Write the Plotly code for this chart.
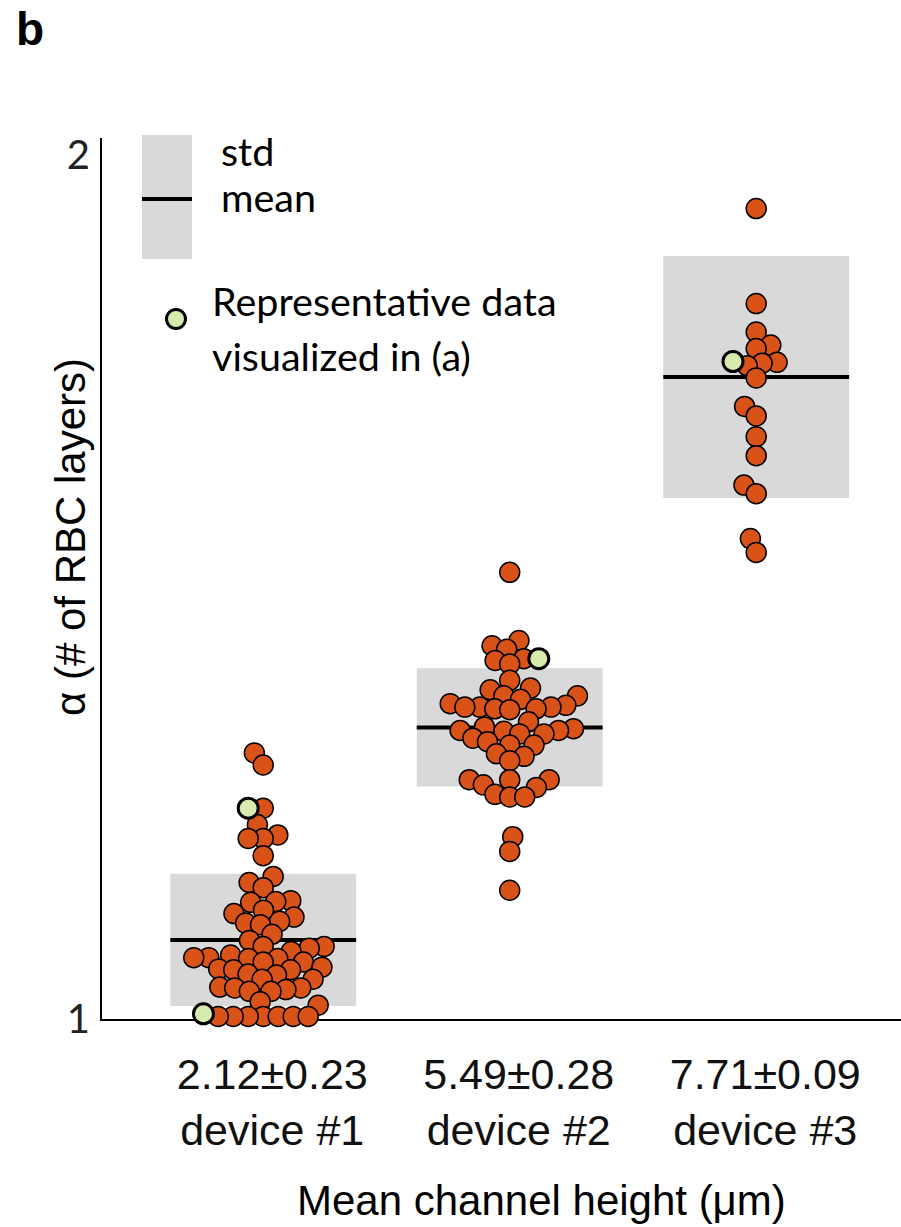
import numpy as np
import plotly.graph_objects as go

# ---------------- data ----------------
heights = ["2.12±0.23", "5.49±0.28", "7.71±0.09"]
devices = ["device #1", "device #2", "device #3"]

alpha_dev1 = [1.308, 1.294, 1.244, 1.225, 1.213, 1.209, 1.209, 1.189,
              1.165, 1.158, 1.152, 1.137, 1.136, 1.135, 1.126, 1.122, 1.118, 1.113, 1.111, 1.109,
              1.098, 1.091, 1.084, 1.084, 1.082, 1.078, 1.074, 1.071, 1.071, 1.070, 1.070, 1.066, 1.066,
              1.060, 1.058, 1.057, 1.057, 1.052, 1.051, 1.046, 1.046,
              1.037, 1.036, 1.036, 1.034, 1.032, 1.032, 1.020, 1.016,
              1.003, 1.003, 1.003, 1.003, 1.003, 1.003, 1.003]
rep_dev1 = [1.244, 1.006]

alpha_dev2 = [1.517, 1.438, 1.432, 1.428, 1.417, 1.415, 1.411, 1.392, 1.383, 1.381,
              1.374, 1.374, 1.370, 1.365, 1.363, 1.361, 1.361, 1.361, 1.359, 1.359, 1.358,
              1.344, 1.338, 1.336, 1.334, 1.334, 1.333, 1.330, 1.330, 1.325, 1.321, 1.317, 1.317,
              1.307, 1.304, 1.299, 1.277, 1.277, 1.277, 1.271, 1.268, 1.260, 1.257, 1.257,
              1.211, 1.194, 1.149]
rep_dev2 = [1.417]

alpha_dev3 = [1.938, 1.828, 1.795, 1.780, 1.776, 1.760, 1.759, 1.756, 1.742,
              1.709, 1.698, 1.674, 1.652, 1.618, 1.608, 1.556, 1.540]
rep_dev3 = [1.761]

mean_alpha = [1.0915, 1.3375, 1.743]
std_alpha = [0.0765, 0.0685, 0.140]

y_ticks = [1, 2]

# ---------------- layout geometry ----------------
W, H = 901, 1227
ML, MR, MT, MB = 102, 0, 138, 208
plot_w = W - ML - MR
plot_h = H - MT - MB
PPY = 864.0            # pixels per alpha unit
PPX = 246.5            # pixels per category step
x0_rng = -0.654
x_range = [x0_rng, x0_rng + plot_w / PPX]
y_range = [1.0, 1.0 + plot_h / PPY]

ORANGE = "#D95319"
GREEN = "#D7EBAE"
GREY = "#D9D9D9"
BOX_HALF = 0.377
MS = 20


def swarm(ys, dmin_px=15.0):
    ys = np.asarray(ys, dtype=float)
    order = np.argsort(ys, kind="stable")
    placed = []
    xs = np.zeros(len(ys))
    for k, i in enumerate(order):
        y = ys[i] * PPY
        near = [(px, py) for px, py in placed if abs(py - y) < dmin_px]
        cands = [0.0]
        for px, py in near:
            dx = np.sqrt(dmin_px ** 2 - (py - y) ** 2)
            cands += [px + dx, px - dx]
        sgn = 1 if k % 2 else -1
        cands.sort(key=lambda c: (round(abs(c), 6), sgn * c))
        for c in cands:
            if all((c - px) ** 2 + (y - py) ** 2 >= dmin_px ** 2 - 1e-6 for px, py in near):
                xs[i] = c
                break
        placed.append((xs[i], y))
    return xs / PPX


fig = go.Figure()

groups = [(alpha_dev1, rep_dev1), (alpha_dev2, rep_dev2), (alpha_dev3, rep_dev3)]
for gi, (vals, reps) in enumerate(groups):
    allv = list(vals) + list(reps)
    offs = swarm(allv)
    n = len(vals)
    # std box and mean line
    fig.add_shape(type="rect", xref="x", yref="y",
                  x0=gi - BOX_HALF, x1=gi + BOX_HALF,
                  y0=mean_alpha[gi] - std_alpha[gi], y1=mean_alpha[gi] + std_alpha[gi],
                  fillcolor=GREY, line=dict(width=0), layer="below")
    fig.add_shape(type="line", xref="x", yref="y",
                  x0=gi - BOX_HALF, x1=gi + BOX_HALF,
                  y0=mean_alpha[gi], y1=mean_alpha[gi],
                  line=dict(color="black", width=4), layer="below")
    fig.add_trace(go.Scatter(
        x=gi + offs[:n], y=vals, mode="markers", cliponaxis=False, showlegend=False,
        marker=dict(size=MS, color=ORANGE, line=dict(color="black", width=1.5))))
    fig.add_trace(go.Scatter(
        x=gi + offs[n:], y=reps, mode="markers", cliponaxis=False, showlegend=False,
        marker=dict(size=MS, color=GREEN, line=dict(color="black", width=3))))


def px_x(p):
    return (p - ML) / plot_w


def px_y(p):
    return (H - MB - p) / plot_h


# legend (drawn in paper space)
fig.add_shape(type="rect", xref="paper", yref="paper",
              x0=px_x(142), x1=px_x(192), y0=px_y(259), y1=px_y(135),
              fillcolor=GREY, line=dict(width=0), layer="below")
fig.add_shape(type="line", xref="paper", yref="paper",
              x0=px_x(142), x1=px_x(192), y0=px_y(199), y1=px_y(199),
              line=dict(color="black", width=4))
fig.add_shape(type="circle", xref="paper", yref="paper",
              x0=px_x(166.5), x1=px_x(185.5), y0=px_y(328.5), y1=px_y(309.5),
              fillcolor=GREEN, line=dict(color="black", width=3))

LEG_FONT = dict(family="Lato, Carlito, sans-serif", size=39.5, color="black")
for txt, xl, yc in [("std", 219, 150), ("mean", 219, 197),
                    ("Representative data", 210, 300), ("visualized in (a)", 210, 355)]:
    fig.add_annotation(text=txt, xref="paper", yref="paper", x=px_x(xl), y=px_y(yc),
                       xanchor="left", yanchor="middle", showarrow=False, font=LEG_FONT)

# panel letter
fig.add_annotation(text="<b>b</b>", xref="paper", yref="paper", x=px_x(14), y=px_y(29),
                   xanchor="left", yanchor="middle", showarrow=False,
                   font=dict(family="Liberation Sans, Arial", size=46, color="black"))

# axis titles
fig.add_annotation(text="α (# of RBC layers)", xref="paper", yref="paper",
                   x=px_x(70), y=px_y(537), xanchor="center", yanchor="middle",
                   textangle=-90, showarrow=False,
                   font=dict(family="Liberation Sans, Arial", size=42, color="black"))
fig.add_annotation(text="Mean channel height (μm)", xref="paper", yref="paper",
                   x=px_x(541), y=px_y(1200), xanchor="center", yanchor="middle",
                   showarrow=False,
                   font=dict(family="Liberation Sans, Arial", size=42, color="black"))

fig.update_layout(
    width=W, height=H,
    margin=dict(l=ML, r=MR, t=MT, b=MB),
    paper_bgcolor="white", plot_bgcolor="white",
    xaxis=dict(range=x_range, showgrid=False, zeroline=False,
               showline=True, linecolor="black", linewidth=2, ticks="",
               tickvals=[0, 1, 2],
               ticktext=[f"{h}<br>{d}" for h, d in zip(heights, devices)],
               ticklabelshift=9, ticklabelstandoff=16,
               tickfont=dict(family="Liberation Sans, Arial", size=43, color="#111"),
               layer="below traces", fixedrange=True),
    yaxis=dict(range=y_range, showgrid=False, zeroline=False,
               showline=True, linecolor="black", linewidth=2, ticks="",
               tickvals=y_ticks, ticktext=[str(t) for t in y_ticks],
               ticklabelstandoff=2,
               tickfont=dict(family="Lato, Carlito, sans-serif", size=40, color="#222"),
               layer="below traces", fixedrange=True),
)

fig.write_html("out.html")
